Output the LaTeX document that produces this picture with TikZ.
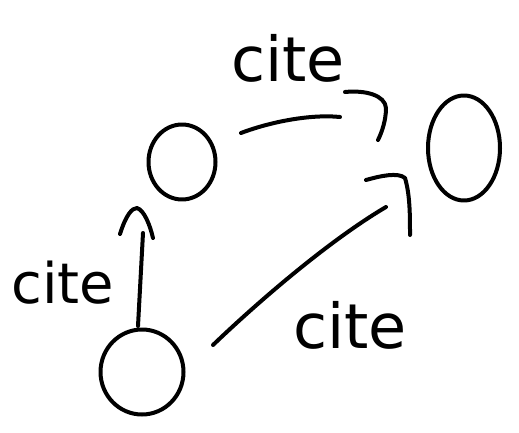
\documentclass[tikz,border=0pt]{standalone}
\usepackage{fontspec}
\setmainfont{DejaVu Sans}
\usetikzlibrary{shapes.geometric}
\begin{document}
\begin{tikzpicture}[x=1pt,y=-1pt,
  ink/.style={line width=4pt,line cap=round,line join=round},
  circ/.style={ink,draw,ellipse,inner sep=0pt},
  lbl/.style={font=\fontsize{62}{62}\selectfont}]
\useasboundingbox (0,0) rectangle (519,433);
% nodes
\node[circ,minimum width=83pt,minimum height=85pt] (a) at (142,372) {};
\node[circ,minimum width=67pt,minimum height=75pt] (b) at (182,162) {};
\node[circ,minimum width=72pt,minimum height=105pt] (c) at (464,148) {};
% connector a -> b
\coordinate (a1) at (138,326);
\coordinate (b1) at (143,233);
\draw[ink] (a1) -- (b1);
\draw[ink] (120,234) .. controls (126,215) and (132,208) .. (137,208) .. controls (144,210) and (150,225) .. (153,238);
% connector b -> c
\coordinate (b2) at (241,133);
\coordinate (c2) at (340,117);
\draw[ink] (b2) .. controls (270,122) and (310,114) .. (c2);
\draw[ink] (345,92) .. controls (365,90) and (385,95) .. (386,108) .. controls (386,120) and (382,132) .. (378,140);
% connector a -> c
\coordinate (a3) at (213,345);
\coordinate (c3) at (386,207);
\draw[ink] (a3) .. controls (260,300) and (330,240) .. (c3);
\draw[ink] (366,180) .. controls (380,176) and (398,172) .. (405,178) .. controls (410,195) and (410,215) .. (410,235);
% labels
\node[lbl,font=\fontsize{56}{56}\selectfont] (l1) at (63,283) {cite};
\node[lbl] (l2) at (288,58) {cite};
\node[lbl] (l3) at (350,325) {cite};
\end{tikzpicture}
\end{document}
